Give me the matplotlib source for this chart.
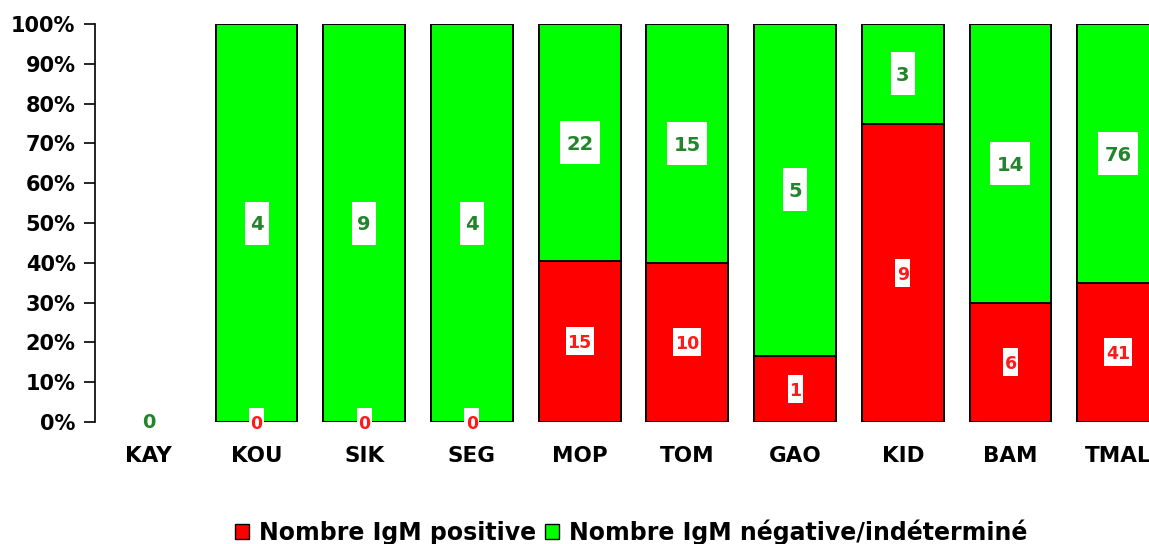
import matplotlib.pyplot as plt
from matplotlib.patches import Rectangle, Patch
import numpy as np

plt.rcParams['font.family'] = ['DejaVu Sans']
plt.rcParams['font.weight'] = 'bold'

sites = ["KAY", "KOU", "SIK", "SEG", "MOP", "TOM", "GAO", "KID", "BAM", "TMAL"]
igm_pos = [0, 0, 0, 0, 15, 10, 1, 9, 6, 41]
igm_neg = [0, 4, 9, 4, 22, 15, 5, 3, 14, 76]

pos = np.array(igm_pos, dtype=float)
neg = np.array(igm_neg, dtype=float)
tot = pos + neg
safe = np.where(tot == 0, 1, tot)
pos_pct = pos / safe * 100
neg_pct = neg / safe * 100

fig = plt.figure(figsize=(11.49, 5.44), dpi=100)
# axes runs a little past the right edge, like the original export
ax = fig.add_axes([95 / 1149, 122 / 544, 1077 / 1149, 398 / 544])
ax.set_xlim(-0.5, len(sites) - 0.5)
ax.set_ylim(0, 100)

x = np.arange(len(sites))
red = "#ff0000"
green = "#00ff00"
red_txt = "#ff1a1a"
green_txt = "#23852a"

def edges(h):
    return ["black" if v > 0 else "none" for v in h]

ax.bar(x, pos_pct, width=0.76, color=red, edgecolor=edges(pos_pct), linewidth=1.4)
ax.bar(x, neg_pct, width=0.76, bottom=pos_pct, color=green, edgecolor=edges(neg_pct),
       linewidth=1.4)

# pixel -> data size for the white label boxes
bb = ax.get_window_extent()
px_x = (len(sites)) / bb.width
px_y = 100 / bb.height

def label(xc, yc, txt, color, size, w_px, h_px, box=True):
    if box:
        w, h = w_px * px_x, h_px * px_y
        ax.add_patch(Rectangle((xc - w / 2, yc - h / 2), w, h, facecolor="white",
                               edgecolor="none", zorder=3, clip_on=False))
    ax.text(xc, yc, txt, ha="center", va="center_baseline", color=color,
            fontsize=size, fontweight="bold", zorder=4)

for i in range(len(sites)):
    if tot[i] == 0:
        label(x[i], 0.5, str(igm_neg[i]), green_txt, 14, 0, 0, box=False)
        continue
    sp = str(igm_pos[i])
    sn = str(igm_neg[i])
    label(x[i], pos_pct[i] / 2, sp, red_txt, 12.5, 13 * len(sp) + 2, 28)
    label(x[i], pos_pct[i] + neg_pct[i] / 2, sn, green_txt, 14, 16 * len(sn) + 8, 43)

ax.set_yticks(np.arange(0, 101, 10))
ax.set_yticklabels([f"{v}%" for v in range(0, 101, 10)], fontsize=15)
ax.set_xticks(x)
ax.set_xticklabels(sites, fontsize=15.5)
ax.tick_params(axis="x", length=0, pad=17)
ax.tick_params(axis="y", length=8, width=1.2, direction="out", pad=6)
for s in ["top", "right", "bottom"]:
    ax.spines[s].set_visible(False)
ax.spines["left"].set_linewidth(1.2)

handles = [Patch(facecolor=red, edgecolor="black", linewidth=1.0, label="Nombre IgM positive"),
           Patch(facecolor=green, edgecolor="black", linewidth=1.0,
                 label="Nombre IgM négative/indéterminé")]
fig.legend(handles=handles, loc="center", bbox_to_anchor=(631 / 1149, 1 - 532 / 544),
           ncol=2, frameon=False, fontsize=17, handlelength=0.6, handleheight=0.6,
           handletextpad=0.4, columnspacing=0.4, borderaxespad=0)

fig.savefig("out.png", dpi=100)
